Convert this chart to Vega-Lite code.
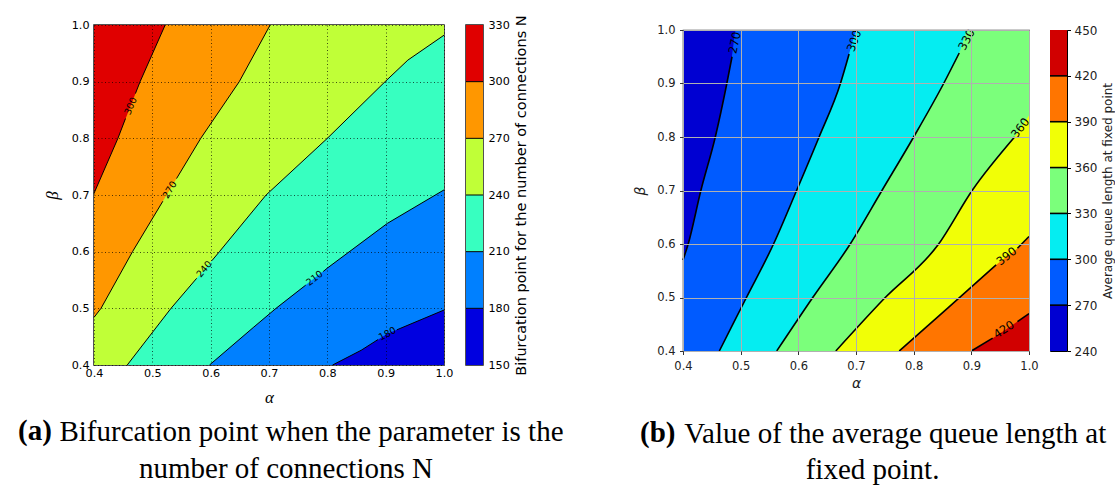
{
  "$schema": "https://vega.github.io/schema/vega-lite/v6.json",
  "background": "white",
  "autosize": {"type": "pad"},
  "padding": {"left": 17, "top": 14, "right": 0, "bottom": 0},
  "bounds": "flush",
  "spacing": 22,
  "config": {"view": {"stroke": null}, "font": "DejaVu Sans"},
  "resolve": {"scale": {"color": "independent"}},
  "datasets": {
    "fillA": [
      {"band": "150-180", "alpha": 0.4, "beta": 0.4}, {"band": "150-180", "alpha": 1.0, "beta": 0.4},
      {"band": "180-210", "alpha": 0.4, "beta": 0.4}, {"band": "180-210", "alpha": 0.809, "beta": 0.4}, {"band": "180-210", "alpha": 0.858, "beta": 0.426}, {"band": "180-210", "alpha": 0.903, "beta": 0.455}, {"band": "180-210", "alpha": 1.0, "beta": 0.497},
      {"band": "210-240", "alpha": 0.4, "beta": 0.4}, {"band": "210-240", "alpha": 0.598, "beta": 0.4}, {"band": "210-240", "alpha": 0.674, "beta": 0.467}, {"band": "210-240", "alpha": 0.712, "beta": 0.5}, {"band": "210-240", "alpha": 0.8, "beta": 0.571}, {"band": "210-240", "alpha": 0.903, "beta": 0.65}, {"band": "210-240", "alpha": 1.0, "beta": 0.709},
      {"band": "240-270", "alpha": 0.4, "beta": 0.4}, {"band": "240-270", "alpha": 0.457, "beta": 0.4}, {"band": "240-270", "alpha": 0.532, "beta": 0.5}, {"band": "240-270", "alpha": 0.615, "beta": 0.6}, {"band": "240-270", "alpha": 0.695, "beta": 0.7}, {"band": "240-270", "alpha": 0.8, "beta": 0.8}, {"band": "240-270", "alpha": 0.899, "beta": 0.9}, {"band": "240-270", "alpha": 0.938, "beta": 0.938}, {"band": "240-270", "alpha": 1.0, "beta": 0.982},
      {"band": "270-300", "alpha": 0.4, "beta": 0.484}, {"band": "270-300", "alpha": 0.412, "beta": 0.5}, {"band": "270-300", "alpha": 0.466, "beta": 0.6}, {"band": "270-300", "alpha": 0.583, "beta": 0.8}, {"band": "270-300", "alpha": 0.649, "beta": 0.9}, {"band": "270-300", "alpha": 0.702, "beta": 1.0}, {"band": "270-300", "alpha": 1.0, "beta": 1.0},
      {"band": "300-330", "alpha": 0.4, "beta": 0.703}, {"band": "300-330", "alpha": 0.441, "beta": 0.8}, {"band": "300-330", "alpha": 0.479, "beta": 0.9}, {"band": "300-330", "alpha": 0.522, "beta": 1.0}, {"band": "300-330", "alpha": 1.0, "beta": 1.0}
    ],
    "linesA": [
      {"seg": "180a", "alpha": 0.809, "beta": 0.4}, {"seg": "180a", "alpha": 0.858, "beta": 0.426}, {"seg": "180a", "alpha": 0.887, "beta": 0.445},
      {"seg": "180b", "alpha": 0.919, "beta": 0.462}, {"seg": "180b", "alpha": 1.0, "beta": 0.497},
      {"seg": "210a", "alpha": 0.598, "beta": 0.4}, {"seg": "210a", "alpha": 0.674, "beta": 0.467}, {"seg": "210a", "alpha": 0.712, "beta": 0.5}, {"seg": "210a", "alpha": 0.763, "beta": 0.541},
      {"seg": "210b", "alpha": 0.793, "beta": 0.565}, {"seg": "210b", "alpha": 0.8, "beta": 0.571}, {"seg": "210b", "alpha": 0.903, "beta": 0.65}, {"seg": "210b", "alpha": 1.0, "beta": 0.709},
      {"seg": "240a", "alpha": 0.457, "beta": 0.4}, {"seg": "240a", "alpha": 0.532, "beta": 0.5}, {"seg": "240a", "alpha": 0.576, "beta": 0.553},
      {"seg": "240b", "alpha": 0.602, "beta": 0.584}, {"seg": "240b", "alpha": 0.615, "beta": 0.6}, {"seg": "240b", "alpha": 0.695, "beta": 0.7}, {"seg": "240b", "alpha": 0.8, "beta": 0.8}, {"seg": "240b", "alpha": 0.899, "beta": 0.9}, {"seg": "240b", "alpha": 0.938, "beta": 0.938}, {"seg": "240b", "alpha": 1.0, "beta": 0.982},
      {"seg": "270a", "alpha": 0.4, "beta": 0.484}, {"seg": "270a", "alpha": 0.412, "beta": 0.5}, {"seg": "270a", "alpha": 0.466, "beta": 0.6}, {"seg": "270a", "alpha": 0.518, "beta": 0.689},
      {"seg": "270b", "alpha": 0.5415, "beta": 0.729}, {"seg": "270b", "alpha": 0.583, "beta": 0.8}, {"seg": "270b", "alpha": 0.649, "beta": 0.9}, {"seg": "270b", "alpha": 0.702, "beta": 1.0},
      {"seg": "300a", "alpha": 0.4, "beta": 0.703}, {"seg": "300a", "alpha": 0.441, "beta": 0.8}, {"seg": "300a", "alpha": 0.454, "beta": 0.835},
      {"seg": "300b", "alpha": 0.471, "beta": 0.879}, {"seg": "300b", "alpha": 0.479, "beta": 0.9}, {"seg": "300b", "alpha": 0.522, "beta": 1.0}
    ],
    "labelsA": [
      {"level": 180, "label": "180", "alpha": 0.903, "beta": 0.455},
      {"level": 210, "label": "210", "alpha": 0.778, "beta": 0.553},
      {"level": 240, "label": "240", "alpha": 0.589, "beta": 0.569},
      {"level": 270, "label": "270", "alpha": 0.53, "beta": 0.709},
      {"level": 300, "label": "300", "alpha": 0.463, "beta": 0.857}
    ],
    "barA": [
      {"band": "150-180", "lo": 150, "hi": 180}, {"band": "180-210", "lo": 180, "hi": 210}, {"band": "210-240", "lo": 210, "hi": 240},
      {"band": "240-270", "lo": 240, "hi": 270}, {"band": "270-300", "lo": 270, "hi": 300}, {"band": "300-330", "lo": 300, "hi": 330}
    ],
    "levA": [{"lo": 180}, {"lo": 210}, {"lo": 240}, {"lo": 270}, {"lo": 300}],
    "fillB": [
      {"band": "240-270", "alpha": 0.4, "beta": 1.0}, {"band": "240-270", "alpha": 1.0, "beta": 1.0},
      {"band": "270-300", "alpha": 0.4, "beta": 0.57}, {"band": "270-300", "alpha": 0.409, "beta": 0.6}, {"band": "270-300", "alpha": 0.431, "beta": 0.7}, {"band": "270-300", "alpha": 0.456, "beta": 0.8}, {"band": "270-300", "alpha": 0.476, "beta": 0.9}, {"band": "270-300", "alpha": 0.485, "beta": 0.95}, {"band": "270-300", "alpha": 0.492, "beta": 1.0}, {"band": "270-300", "alpha": 1.0, "beta": 1.0},
      {"band": "300-330", "alpha": 0.463, "beta": 0.4}, {"band": "300-330", "alpha": 0.51, "beta": 0.5}, {"band": "300-330", "alpha": 0.557, "beta": 0.6}, {"band": "300-330", "alpha": 0.597, "beta": 0.7}, {"band": "300-330", "alpha": 0.636, "beta": 0.8}, {"band": "300-330", "alpha": 0.673, "beta": 0.9}, {"band": "300-330", "alpha": 0.688, "beta": 0.955}, {"band": "300-330", "alpha": 0.703, "beta": 1.0}, {"band": "300-330", "alpha": 1.0, "beta": 1.0},
      {"band": "330-360", "alpha": 0.5625, "beta": 0.4}, {"band": "330-360", "alpha": 0.625, "beta": 0.5}, {"band": "330-360", "alpha": 0.69, "beta": 0.6}, {"band": "330-360", "alpha": 0.745, "beta": 0.7}, {"band": "330-360", "alpha": 0.8, "beta": 0.8}, {"band": "330-360", "alpha": 0.852, "beta": 0.9}, {"band": "330-360", "alpha": 0.879, "beta": 0.957}, {"band": "330-360", "alpha": 0.895, "beta": 1.0}, {"band": "330-360", "alpha": 1.0, "beta": 1.0},
      {"band": "360-390", "alpha": 0.665, "beta": 0.4}, {"band": "360-390", "alpha": 0.749, "beta": 0.498}, {"band": "360-390", "alpha": 0.842, "beta": 0.598}, {"band": "360-390", "alpha": 0.902, "beta": 0.701}, {"band": "360-390", "alpha": 0.975, "beta": 0.8}, {"band": "360-390", "alpha": 1.0, "beta": 0.84},
      {"band": "390-420", "alpha": 0.775, "beta": 0.4}, {"band": "390-420", "alpha": 0.859, "beta": 0.48}, {"band": "390-420", "alpha": 0.943, "beta": 0.561}, {"band": "390-420", "alpha": 0.98, "beta": 0.592}, {"band": "390-420", "alpha": 1.0, "beta": 0.614},
      {"band": "420-450", "alpha": 0.9, "beta": 0.4}, {"band": "420-450", "alpha": 0.937, "beta": 0.424}, {"band": "420-450", "alpha": 0.98, "beta": 0.455}, {"band": "420-450", "alpha": 1.0, "beta": 0.47}
    ],
    "linesB": [
      {"seg": "270", "alpha": 0.4, "beta": 0.57}, {"seg": "270", "alpha": 0.409, "beta": 0.6}, {"seg": "270", "alpha": 0.431, "beta": 0.7}, {"seg": "270", "alpha": 0.456, "beta": 0.8}, {"seg": "270", "alpha": 0.476, "beta": 0.9}, {"seg": "270", "alpha": 0.485, "beta": 0.95},
      {"seg": "300", "alpha": 0.463, "beta": 0.4}, {"seg": "300", "alpha": 0.51, "beta": 0.5}, {"seg": "300", "alpha": 0.557, "beta": 0.6}, {"seg": "300", "alpha": 0.597, "beta": 0.7}, {"seg": "300", "alpha": 0.636, "beta": 0.8}, {"seg": "300", "alpha": 0.673, "beta": 0.9}, {"seg": "300", "alpha": 0.688, "beta": 0.955},
      {"seg": "330", "alpha": 0.5625, "beta": 0.4}, {"seg": "330", "alpha": 0.625, "beta": 0.5}, {"seg": "330", "alpha": 0.69, "beta": 0.6}, {"seg": "330", "alpha": 0.745, "beta": 0.7}, {"seg": "330", "alpha": 0.8, "beta": 0.8}, {"seg": "330", "alpha": 0.852, "beta": 0.9}, {"seg": "330", "alpha": 0.879, "beta": 0.957},
      {"seg": "360", "alpha": 0.665, "beta": 0.4}, {"seg": "360", "alpha": 0.749, "beta": 0.498}, {"seg": "360", "alpha": 0.842, "beta": 0.598}, {"seg": "360", "alpha": 0.902, "beta": 0.701}, {"seg": "360", "alpha": 0.975, "beta": 0.8},
      {"seg": "390a", "alpha": 0.775, "beta": 0.4}, {"seg": "390a", "alpha": 0.859, "beta": 0.48}, {"seg": "390a", "alpha": 0.943, "beta": 0.561},
      {"seg": "390b", "alpha": 0.98, "beta": 0.592}, {"seg": "390b", "alpha": 1.0, "beta": 0.614},
      {"seg": "420a", "alpha": 0.9, "beta": 0.4}, {"seg": "420a", "alpha": 0.937, "beta": 0.424},
      {"seg": "420b", "alpha": 0.98, "beta": 0.455}, {"seg": "420b", "alpha": 1.0, "beta": 0.47}
    ],
    "labelsB": [
      {"level": 270, "label": "270", "alpha": 0.491, "beta": 0.976},
      {"level": 300, "label": "300", "alpha": 0.698, "beta": 0.979},
      {"level": 330, "label": "330", "alpha": 0.893, "beta": 0.981},
      {"level": 360, "label": "360", "alpha": 0.986, "beta": 0.816},
      {"level": 390, "label": "390", "alpha": 0.962, "beta": 0.576},
      {"level": 420, "label": "420", "alpha": 0.957, "beta": 0.439}
    ],
    "barB": [
      {"band": "240-270", "lo": 240, "hi": 270}, {"band": "270-300", "lo": 270, "hi": 300}, {"band": "300-330", "lo": 300, "hi": 330},
      {"band": "330-360", "lo": 330, "hi": 360}, {"band": "360-390", "lo": 360, "hi": 390}, {"band": "390-420", "lo": 390, "hi": 420},
      {"band": "420-450", "lo": 420, "hi": 450}
    ],
    "levB": [{"lo": 270}, {"lo": 300}, {"lo": 330}, {"lo": 360}, {"lo": 390}, {"lo": 420}]
  },
  "hconcat": [
    {
      "width": 350,
      "height": 340,
      "view": {"stroke": "#1a1a1a", "strokeWidth": 1.5},
      "title": {"text": "Bifurcation point when the parameter is the", "orient": "bottom", "anchor": "middle", "frame": "group", "dx": 42.5, "offset": 13, "font": "Liberation Serif", "fontSize": 29, "fontWeight": "normal", "color": "#000"},
      "encoding": {
        "x": {"field": "alpha", "type": "quantitative", "scale": {"domain": [0.4, 1.0], "nice": false, "zero": false},
          "axis": {"values": [0.4, 0.5, 0.6, 0.7, 0.8, 0.9, 1.0], "format": ".1f", "labelFont": "DejaVu Sans", "labelFontSize": 11.2, "labelColor": "#000", "labelPadding": 2, "labelFlush": false, "labelOverlap": false, "labelBound": false, "ticks": false, "tickSize": 0, "domain": false, "grid": true, "gridColor": "#000", "gridDash": [1, 2.5], "gridWidth": 0.8, "gridOpacity": 0.85, "title": "α", "titleFont": "Liberation Serif", "titleFontStyle": "italic", "titleFontWeight": "normal", "titleFontSize": 17, "titleColor": "#000", "titlePadding": 11, "zindex": 1}},
        "y": {"field": "beta", "type": "quantitative", "scale": {"domain": [0.4, 1.0], "nice": false, "zero": false}, "stack": null,
          "axis": {"values": [0.4, 0.5, 0.6, 0.7, 0.8, 0.9, 1.0], "format": ".1f", "labelFont": "DejaVu Sans", "labelFontSize": 11.2, "labelColor": "#000", "labelPadding": 5, "labelFlush": false, "labelOverlap": false, "labelBound": false, "ticks": false, "tickSize": 0, "domain": false, "grid": true, "gridColor": "#000", "gridDash": [1, 2.5], "gridWidth": 0.8, "gridOpacity": 0.85, "title": "β", "titleFont": "Liberation Serif", "titleFontStyle": "italic", "titleFontWeight": "normal", "titleFontSize": 17, "titleColor": "#000", "titlePadding": 10, "zindex": 1}}
      },
      "layer": [
        {
          "data": {"name": "fillA"},
          "mark": {"type": "area", "interpolate": "linear"},
          "encoding": {
            "y2": {"datum": 1},
            "color": {"field": "band", "type": "nominal", "legend": null,
              "scale": {"domain": ["150-180", "180-210", "210-240", "240-270", "270-300", "300-330"], "range": ["#0000e0", "#0080ff", "#37ffc0", "#c0ff37", "#ff9700", "#e00000"]}}
          }
        },
        {
          "data": {"name": "linesA"},
          "mark": {"type": "line", "color": "#000", "strokeWidth": 1},
          "encoding": {"detail": {"field": "seg", "type": "nominal"}}
        },
        {"data": {"name": "labelsA"}, "transform": [{"filter": "datum.level == 180"}], "mark": {"type": "text", "angle": 332, "font": "DejaVu Sans", "fontSize": 9.5, "color": "#000", "align": "center", "baseline": "middle"}, "encoding": {"text": {"field": "label", "type": "nominal"}}},
        {"data": {"name": "labelsA"}, "transform": [{"filter": "datum.level == 210"}], "mark": {"type": "text", "angle": 322, "font": "DejaVu Sans", "fontSize": 9.5, "color": "#000", "align": "center", "baseline": "middle"}, "encoding": {"text": {"field": "label", "type": "nominal"}}},
        {"data": {"name": "labelsA"}, "transform": [{"filter": "datum.level == 240"}], "mark": {"type": "text", "angle": 310, "font": "DejaVu Sans", "fontSize": 9.5, "color": "#000", "align": "center", "baseline": "middle"}, "encoding": {"text": {"field": "label", "type": "nominal"}}},
        {"data": {"name": "labelsA"}, "transform": [{"filter": "datum.level == 270"}], "mark": {"type": "text", "angle": 301, "font": "DejaVu Sans", "fontSize": 9.5, "color": "#000", "align": "center", "baseline": "middle"}, "encoding": {"text": {"field": "label", "type": "nominal"}}},
        {"data": {"name": "labelsA"}, "transform": [{"filter": "datum.level == 300"}], "mark": {"type": "text", "angle": 293, "font": "DejaVu Sans", "fontSize": 9.5, "color": "#000", "align": "center", "baseline": "middle"}, "encoding": {"text": {"field": "label", "type": "nominal"}}}
      ]
    },
    {
      "width": 17,
      "height": 340,
      "view": {"stroke": "#1a1a1a", "strokeWidth": 1.5},
      "title": {"text": "(a)", "orient": "bottom", "anchor": "middle", "frame": "group", "dx": -439.6, "offset": 42, "font": "Liberation Serif", "fontSize": 29, "fontWeight": "bold", "color": "#000"},
      "layer": [
        {
          "data": {"name": "barA"},
          "mark": "rect",
          "encoding": {
            "y": {"field": "lo", "type": "quantitative", "scale": {"domain": [150, 330], "nice": false, "zero": false},
              "axis": {"orient": "right", "values": [150, 180, 210, 240, 270, 300, 330], "format": "d", "labelFont": "DejaVu Sans", "labelFontSize": 11.2, "labelColor": "#000", "labelPadding": 5, "labelOverlap": false, "labelFlush": false, "labelBound": false, "ticks": false, "tickSize": 0, "domain": false, "grid": false, "title": "Bifurcation point for the number of connections N", "titleFont": "DejaVu Sans", "titleFontSize": 14.5, "titleFontWeight": "normal", "titleColor": "#000", "titleAngle": 270, "titleBaseline": "top", "titlePadding": 5}},
            "y2": {"field": "hi"},
            "color": {"field": "band", "type": "nominal", "legend": null,
              "scale": {"domain": ["150-180", "180-210", "210-240", "240-270", "270-300", "300-330"], "range": ["#0000e0", "#0080ff", "#37ffc0", "#c0ff37", "#ff9700", "#e00000"]}}
          }
        },
        {
          "data": {"name": "levA"},
          "mark": {"type": "rule", "color": "#000", "strokeWidth": 1},
          "encoding": {"y": {"field": "lo", "type": "quantitative"}}
        }
      ]
    },
    {
      "width": 156,
      "height": 340,
      "data": {"values": [{}]},
      "mark": {"type": "point", "opacity": 0},
      "encoding": {},
      "title": {"text": "number of connections N", "orient": "bottom", "anchor": "start", "frame": "group", "dx": -366, "offset": 89.7, "font": "Liberation Serif", "fontSize": 29, "fontWeight": "normal", "color": "#000"}
    },
    {
      "vconcat": [
        {
          "width": 1,
          "height": 1,
          "data": {"values": [{}]},
          "mark": {"type": "point", "opacity": 0},
          "encoding": {}
        },
        {
          "hconcat": [
            {
              "width": 346,
              "height": 321,
              "view": {"stroke": "#333", "strokeWidth": 1.2},
              "title": {"text": "Value of the average queue length at", "orient": "bottom", "anchor": "middle", "frame": "group", "dx": 39.3, "offset": 30, "font": "Liberation Serif", "fontSize": 29, "fontWeight": "normal", "color": "#000"},
              "encoding": {
                "x": {"field": "alpha", "type": "quantitative", "scale": {"domain": [0.4, 1.0], "nice": false, "zero": false},
                  "axis": {"values": [0.4, 0.5, 0.6, 0.7, 0.8, 0.9, 1.0], "format": ".1f", "labelFont": "DejaVu Sans", "labelFontSize": 11.5, "labelColor": "#222", "labelPadding": 5.5, "labelFlush": false, "labelOverlap": false, "labelBound": false, "ticks": true, "tickSize": 3.5, "tickColor": "#333", "tickWidth": 1, "domain": false, "grid": true, "gridColor": "#b0b0b0", "gridWidth": 1, "gridOpacity": 1, "title": "α", "titleFont": "DejaVu Sans", "titleFontStyle": "italic", "titleFontWeight": "normal", "titleFontSize": 14, "titleColor": "#222", "titlePadding": 4.5, "zindex": 1}},
                "y": {"field": "beta", "type": "quantitative", "scale": {"domain": [0.4, 1.0], "nice": false, "zero": false}, "stack": null,
                  "axis": {"values": [0.4, 0.5, 0.6, 0.7, 0.8, 0.9, 1.0], "format": ".1f", "labelFont": "DejaVu Sans", "labelFontSize": 11.5, "labelColor": "#222", "labelPadding": 4.5, "labelFlush": false, "labelOverlap": false, "labelBound": false, "ticks": true, "tickSize": 3.5, "tickColor": "#333", "tickWidth": 1, "domain": false, "grid": true, "gridColor": "#b0b0b0", "gridWidth": 1, "gridOpacity": 1, "title": "β", "titleFont": "DejaVu Sans", "titleFontStyle": "italic", "titleFontWeight": "normal", "titleFontSize": 14, "titleColor": "#222", "titlePadding": 9, "zindex": 1}}
              },
              "layer": [
                {
                  "data": {"name": "fillB"},
                  "mark": {"type": "area", "interpolate": "monotone"},
                  "encoding": {
                    "y2": {"datum": 0.4},
                    "color": {"field": "band", "type": "nominal", "legend": null,
                      "scale": {"domain": ["240-270", "270-300", "300-330", "330-360", "360-390", "390-420", "420-450"], "range": ["#0000d2", "#005bff", "#05edf1", "#7bff7b", "#f1ff06", "#ff7500", "#d10000"]}}
                  }
                },
                {
                  "data": {"name": "linesB"},
                  "mark": {"type": "line", "color": "#000", "strokeWidth": 1.6, "interpolate": "monotone"},
                  "encoding": {"detail": {"field": "seg", "type": "nominal"}}
                },
                {"data": {"name": "labelsB"}, "transform": [{"filter": "datum.level == 270"}], "mark": {"type": "text", "angle": 282, "font": "DejaVu Sans", "fontSize": 11.5, "color": "#000", "align": "center", "baseline": "middle"}, "encoding": {"text": {"field": "label", "type": "nominal"}}},
                {"data": {"name": "labelsB"}, "transform": [{"filter": "datum.level == 300"}], "mark": {"type": "text", "angle": 290, "font": "DejaVu Sans", "fontSize": 11.5, "color": "#000", "align": "center", "baseline": "middle"}, "encoding": {"text": {"field": "label", "type": "nominal"}}},
                {"data": {"name": "labelsB"}, "transform": [{"filter": "datum.level == 330"}], "mark": {"type": "text", "angle": 298, "font": "DejaVu Sans", "fontSize": 11.5, "color": "#000", "align": "center", "baseline": "middle"}, "encoding": {"text": {"field": "label", "type": "nominal"}}},
                {"data": {"name": "labelsB"}, "transform": [{"filter": "datum.level == 360"}], "mark": {"type": "text", "angle": 308, "font": "DejaVu Sans", "fontSize": 11.5, "color": "#000", "align": "center", "baseline": "middle"}, "encoding": {"text": {"field": "label", "type": "nominal"}}},
                {"data": {"name": "labelsB"}, "transform": [{"filter": "datum.level == 390"}], "mark": {"type": "text", "angle": 322, "font": "DejaVu Sans", "fontSize": 11.5, "color": "#000", "align": "center", "baseline": "middle"}, "encoding": {"text": {"field": "label", "type": "nominal"}}},
                {"data": {"name": "labelsB"}, "transform": [{"filter": "datum.level == 420"}], "mark": {"type": "text", "angle": 327, "font": "DejaVu Sans", "fontSize": 11.5, "color": "#000", "align": "center", "baseline": "middle"}, "encoding": {"text": {"field": "label", "type": "nominal"}}}
              ]
            },
            {
              "width": 17,
              "height": 321,
              "view": {"stroke": "#000", "strokeWidth": 1},
              "title": {"text": "(b)", "orient": "bottom", "anchor": "middle", "frame": "group", "dx": -400.8, "offset": 62, "font": "Liberation Serif", "fontSize": 29, "fontWeight": "bold", "color": "#000"},
              "layer": [
                {
                  "data": {"name": "barB"},
                  "mark": "rect",
                  "encoding": {
                    "y": {"field": "lo", "type": "quantitative", "scale": {"domain": [240, 450], "nice": false, "zero": false},
                      "axis": {"orient": "right", "values": [240, 270, 300, 330, 360, 390, 420, 450], "format": "d", "labelFont": "DejaVu Sans", "labelFontSize": 12, "labelColor": "#222", "labelPadding": 3.5, "labelOverlap": false, "labelFlush": false, "labelBound": false, "ticks": true, "tickSize": 3.5, "tickColor": "#000", "tickWidth": 1, "domain": false, "grid": false, "title": "Average queue length at fixed point", "titleFont": "DejaVu Sans", "titleFontSize": 12, "titleFontWeight": "normal", "titleColor": "#222", "titleAngle": 270, "titleBaseline": "top", "titlePadding": 6}},
                    "y2": {"field": "hi"},
                    "color": {"field": "band", "type": "nominal", "legend": null,
                      "scale": {"domain": ["240-270", "270-300", "300-330", "330-360", "360-390", "390-420", "420-450"], "range": ["#0000d2", "#005bff", "#05edf1", "#7bff7b", "#f1ff06", "#ff7500", "#d10000"]}}
                  }
                },
                {
                  "data": {"name": "levB"},
                  "mark": {"type": "rule", "color": "#000", "strokeWidth": 1.6},
                  "encoding": {"y": {"field": "lo", "type": "quantitative"}}
                }
              ]
            }
          ],
          "spacing": 21,
          "bounds": "flush",
          "title": {"text": "fixed point.", "orient": "bottom", "anchor": "start", "frame": "bounds", "dx": 172.6, "offset": 6, "font": "Liberation Serif", "fontSize": 29, "fontWeight": "normal", "color": "#000"}
        }
      ],
      "spacing": 4,
      "bounds": "flush"
    }
  ]
}
